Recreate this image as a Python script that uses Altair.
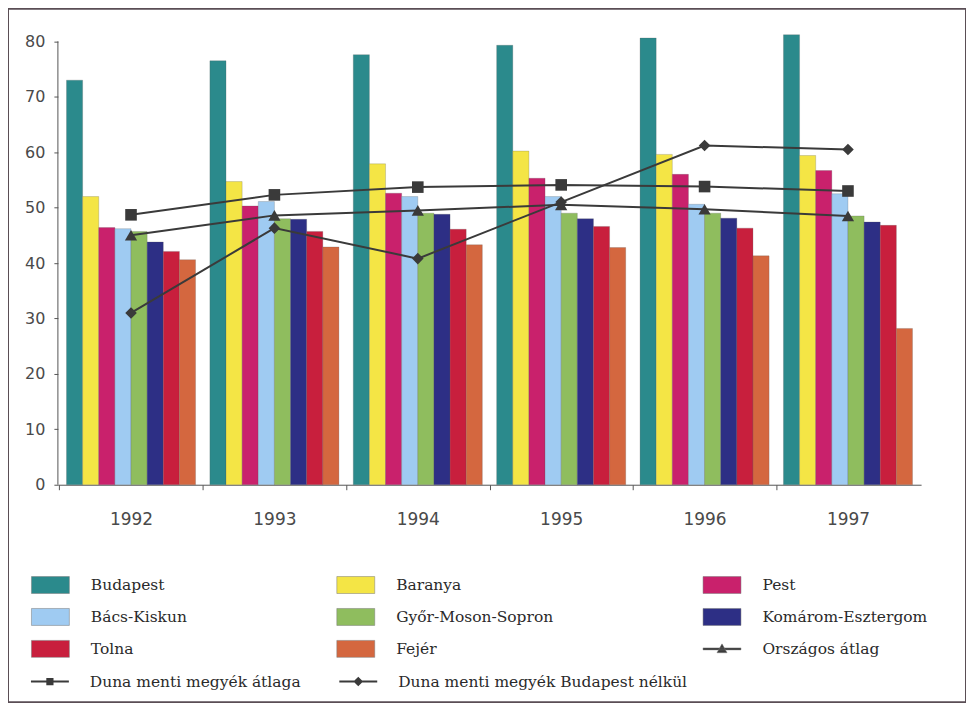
import altair as alt
import pandas as pd

years = ["1992", "1993", "1994", "1995", "1996", "1997"]

bar_names = ["Budapest", "Baranya", "Pest", "Bács-Kiskun", "Győr-Moson-Sopron",
             "Komárom-Esztergom", "Tolna", "Fejér"]
budapest = [73.0, 76.5, 77.6, 79.3, 80.6, 81.2]
baranya = [52.0, 54.7, 57.9, 60.2, 59.6, 59.4]
pest = [46.4, 50.3, 52.6, 55.3, 56.0, 56.7]
bacs = [46.2, 51.1, 52.0, 52.0, 50.6, 52.5]
gyor = [45.7, 48.0, 49.0, 49.0, 49.0, 48.5]
komarom = [43.8, 47.9, 48.8, 48.0, 48.1, 47.4]
tolna = [42.1, 45.7, 46.1, 46.6, 46.3, 46.8]
fejer = [40.6, 42.9, 43.3, 42.8, 41.3, 28.2]
bar_values = [budapest, baranya, pest, bacs, gyor, komarom, tolna, fejer]

avg_name = "Országos átlag"
orszagos = [45.0, 48.6, 49.5, 50.5, 49.7, 48.5]
duna_names = ["Duna menti megyék átlaga", "Duna menti megyék Budapest nélkül"]
duna_avg = [48.7, 52.3, 53.7, 54.1, 53.8, 53.0]
duna_nobp = [31.0, 46.3, 40.8, 51.0, 61.2, 60.5]

bar_colors = ["#2b8a8c", "#f4e545", "#c9216c", "#9fcbf2", "#8fbd5e",
              "#2d2f85", "#c81f3d", "#d4673f"]
line_color = "#3a3a3a"
y_ticks = [0, 10, 20, 30, 40, 50, 60, 70, 80]

# ---- tables built from the arrays above
bar_rows = []
for name, vals in zip(bar_names, bar_values):
    for yr, v in zip(years, vals):
        bar_rows.append({"year": yr, "series": name, "value": v})
bars_df = pd.DataFrame(bar_rows)

avg_df = pd.DataFrame({"year": years, "series": avg_name, "value": orszagos})
duna_rows = []
for name, vals in zip(duna_names, [duna_avg, duna_nobp]):
    for yr, v in zip(years, vals):
        duna_rows.append({"year": yr, "series": name, "label": name, "value": v})
duna_df = pd.DataFrame(duna_rows)
lines_df = pd.concat([avg_df, duna_df[["year", "series", "value"]]], ignore_index=True)

# ---- geometry (whole frame is the view)
W, H = 960, 695
y0_px, y80_px = 477.0, 32.7
ppu = (y0_px - y80_px) / 80
y_domain = [-(H - y0_px) / ppu, 80 + y80_px / ppu]
x_range = [50, 915]
p_in, p_out = 0.1, 0.06
step = (x_range[1] - x_range[0]) / (len(years) - p_in + 2 * p_out)

yscale = alt.Scale(domain=y_domain, nice=False, zero=False)
xscale = alt.Scale(domain=years, range=x_range, paddingInner=p_in, paddingOuter=p_out)

RECT = "M-1.583,-0.708H1.583V0.708H-1.583Z"
LINE = "M-1.583,-0.083H1.583V0.083H-1.583Z"
TRI = LINE + "M-0.42,0.32L0,-0.42L0.42,0.32Z"
SQ = LINE + "M-0.3,-0.3H0.3V0.3H-0.3Z"
DIA = LINE + "M0,-0.4L0.4,0L0,0.4L-0.4,0Z"

legend_common = dict(
    title=None, orient="none", direction="horizontal", gridAlign="each",
    symbolSize=576, labelOffset=28,
    labelFont="DejaVu Serif", labelFontSize=15.5, labelColor="#2a2a2a",
    labelLimit=600, padding=0, rowPadding=10,
)

legend1 = alt.Legend(
    legendX=30, legendY=565, columns=3, columnPadding=148,
    symbolType=alt.ExprRef(expr=f"datum.value === '{avg_name}' ? '{TRI}' : '{RECT}'"),
    symbolStrokeColor="#777777", symbolStrokeWidth=0.5,
    **legend_common,
)
legend2 = alt.Legend(
    legendX=30, legendY=662, columns=2, columnPadding=38,
    symbolType=alt.ExprRef(expr=f"datum.value === '{duna_names[0]}' ? '{SQ}' : '{DIA}'"),
    symbolFillColor=line_color, symbolStrokeWidth=0, symbolOpacity=1,
    **legend_common,
)

x_axis = alt.Axis(
    title=None, orient="bottom", offset=-(H - y0_px), bandPosition=0,
    tickOffset=-step * p_in / 2, labelOffset=step * p_in / 2,
    tickSize=5, tickColor="#555555", domainColor="#555555", labelAngle=0,
    labelFont="DejaVu Sans", labelFontSize=17, labelColor="#4a4a4a",
    labelPadding=22, grid=False,
)
y_axis = alt.Axis(
    title=None, orient="left", offset=-x_range[0], values=y_ticks, domain=False,
    tickSize=4, tickColor="#555555", labelPadding=9, grid=False,
    labelFont="DejaVu Sans", labelFontSize=16, labelColor="#4a4a4a",
)

X = alt.X("year:N", scale=xscale, axis=x_axis)
Y = alt.Y("value:Q", scale=yscale, axis=y_axis)

bars = alt.Chart(bars_df).mark_bar(stroke="#555555", strokeWidth=0.4, strokeOpacity=0.6).encode(
    x=X,
    xOffset=alt.XOffset("series:N", sort=bar_names,
                        scale=alt.Scale(domain=bar_names, paddingInner=0, paddingOuter=0)),
    y=Y,
    y2=alt.datum(0),
    color=alt.Color("series:N", scale=alt.Scale(domain=bar_names + [avg_name],
                                                range=bar_colors + [line_color]),
                    legend=legend1),
)

yline = alt.Chart(pd.DataFrame({"v": [0]})).mark_rule(color="#555555", strokeWidth=1).encode(
    x=alt.value(x_range[0]),
    y=alt.Y(datum=0, scale=yscale, axis=y_axis),
    y2=alt.datum(80),
)

lines = alt.Chart(lines_df).mark_line(color=line_color, strokeWidth=2).encode(
    x=X, y=Y, detail="series:N",
)

avg_pts = alt.Chart(avg_df).mark_point(filled=True, shape="triangle-up", size=150,
                                       color=line_color, opacity=1).encode(x=X, y=Y)

# shape domain listed in reverse order so its legend is not merged with the fill legend
duna_pts = alt.Chart(duna_df).mark_point(filled=True, size=135, opacity=1).encode(
    x=X, y=Y,
    shape=alt.Shape("series:N", scale=alt.Scale(domain=duna_names[::-1], range=["diamond", "square"]),
                    legend=None),
    fill=alt.Fill("label:N", scale=alt.Scale(domain=duna_names, range=[line_color, line_color]),
                  legend=legend2),
)

chart = alt.layer(bars, yline, lines, avg_pts, duna_pts).properties(
    width=W, height=H, padding=0, background="white"
).configure_view(stroke="#5a4e55", strokeWidth=2)

chart.save("out.html", embed_options={"renderer": "svg", "actions": False})
